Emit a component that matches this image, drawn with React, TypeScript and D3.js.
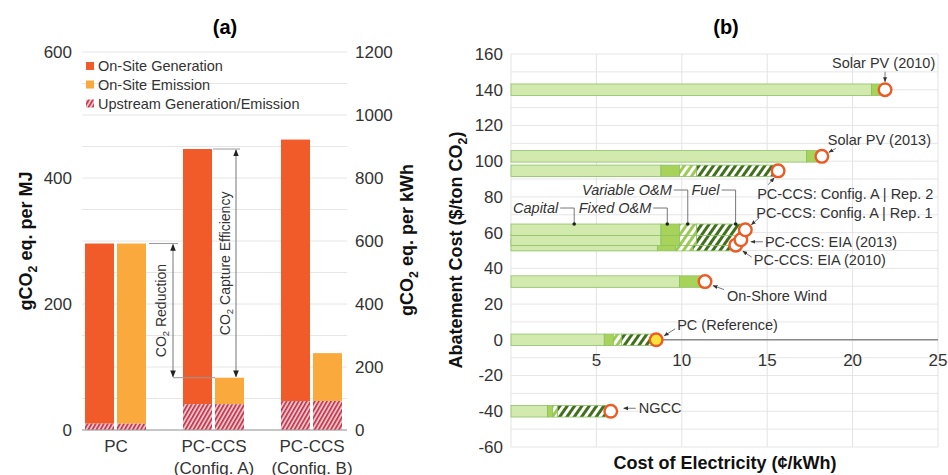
import * as d3 from "d3";

// ---- panel (a): emissions per unit output
const groups = ["PC", "PC-CCS (Config. A)", "PC-CCS (Config. B)"];
const groupLabels = [["PC"], ["PC-CCS", "(Config. A)"], ["PC-CCS", "(Config. B)"]];
const upstream = [10, 41, 46];
const onSiteGeneration = [286, 405, 415];
const onSiteEmission = [286, 42, 76];
const mjTicks = [0, 200, 400, 600];
const kwhTicks = [0, 200, 400, 600, 800, 1000, 1200];
const legendItems = ["On-Site Generation", "On-Site Emission", "Upstream Generation/Emission"];

// ---- panel (b): abatement cost vs cost of electricity
const techs = [
  "Solar PV (2010)",
  "Solar PV (2013)",
  "PC-CCS: Config. A | Rep. 2",
  "PC-CCS: Config. A | Rep. 1",
  "PC-CCS: EIA (2013)",
  "PC-CCS: EIA (2010)",
  "On-Shore Wind",
  "PC (Reference)",
  "NGCC",
];
const abatement = [140, 102.7, 94.6, 61.6, 56, 53, 32.6, 0, -40];
const capital = [21.1, 17.3, 8.78, 8.78, 8.78, 8.57, 9.86, 5.46, 2.13];
const fixedOM = [0.8, 0.9, 1.08, 1.08, 1.08, 1.09, 1.5, 0.53, 0.31];
const variableOM = [0, 0, 1.0, 1.0, 1.0, 1.0, 0, 0.49, 0.29];
const fuel = [0, 0, 4.78, 2.86, 2.6, 2.5, 0, 2.02, 3.11];
const costTicks = [5, 10, 15, 20, 25];
const abatementTicks = [-60, -40, -20, 0, 20, 40, 60, 80, 100, 120, 140, 160];
const components = ["Capital", "Fixed O&M", "Variable O&M", "Fuel"];
const componentDotX = [3.7, 9.15, 10.35, 13.15];

// callout layout relative to each marker: text (tx,ty), arrow from (x1,y1) to (x2,y2)
const callouts = [
  { tx: -53, ty: -22, x1: 0, y1: -18, x2: 0, y2: -8 },
  { tx: 6, ty: -11, x1: 14, y1: -8, x2: 7, y2: -4 },
  { tx: -21, ty: 28, x1: -10, y1: 14, x2: -4, y2: 7 },
  { tx: 11, ty: -12, x1: 14, y1: -12, x2: 6, y2: -5 },
  { tx: 24, ty: 7, x1: 22, y1: 2, x2: 10, y2: 2 },
  { tx: 18, ty: 20, x1: 16, y1: 12, x2: 7, y2: 6 },
  { tx: 22, ty: 19, x1: 19, y1: 8, x2: 8, y2: 4 },
  { tx: 21, ty: -10, x1: 19, y1: -11, x2: 8, y2: -4 },
  { tx: 28, ty: 2, x1: 25, y1: -3, x2: 13, y2: -3 },
];

const FONT = "'Liberation Sans', Arial, Helvetica, sans-serif";
const GEN = "#f15a29";
const EMI = "#faa93c";
const CAP = "#d3eaaf";
const FIX = "#a8d35b";
const EDGE = "#8cc063";

function Co2({ pre, post, size }: { pre: string; post: string; size: number }) {
  const d = size * 0.28;
  return (
    <>
      {pre}
      <tspan dy={d} fontSize={size * 0.68}>2</tspan>
      <tspan dy={-d}>{post}</tspan>
    </>
  );
}

function PanelA() {
  const x = d3.scaleBand().domain(groups).range([67, 361]);
  const y = d3.scaleLinear().domain([0, 600]).range([430, 52]);
  const y2 = d3.scaleLinear().domain([0, 1200]).range([430, 52]);
  const cx = (i: number) => (x(groups[i]) ?? 0) + x.bandwidth() / 2;
  const grid = d3.range(0, 601, 50);
  const total = (i: number) => upstream[i] + onSiteGeneration[i];
  const totalE = (i: number) => upstream[i] + onSiteEmission[i];
  const redX = cx(1) - 41;
  const capX = cx(1) + 22;

  return (
    <g>
      <text x={225} y={34} textAnchor="middle" fontSize={20} fontWeight="bold">(a)</text>
      {grid.map((g) => (
        <line key={g} x1={82} x2={347} y1={y(g)} y2={y(g)} stroke="#e6e6e6" />
      ))}
      {groups.map((g, i) => {
        const c = cx(i);
        return (
          <g key={g}>
            <rect x={c - 31} width={29} y={y(total(i))} height={y(upstream[i]) - y(total(i))} fill={GEN} />
            <rect x={c - 31} width={29} y={y(upstream[i])} height={y(0) - y(upstream[i])} fill="url(#upHatch)" />
            <rect x={c + 1} width={29} y={y(totalE(i))} height={y(upstream[i]) - y(totalE(i))} fill={EMI} />
            <rect x={c + 1} width={29} y={y(upstream[i])} height={y(0) - y(upstream[i])} fill="url(#upHatch)" />
            {groupLabels[i].map((l, k) => (
              <text key={l} x={c} y={452 + k * 22} textAnchor="middle" fontSize={17} fill="#333">{l}</text>
            ))}
          </g>
        );
      })}
      <line x1={82} x2={347} y1={y(0)} y2={y(0)} stroke="#999" />
      {mjTicks.map((t) => (
        <text key={t} x={72} y={y(t)} dy="0.35em" textAnchor="end" fontSize={17} fill="#333">{t}</text>
      ))}
      {kwhTicks.map((t) => (
        <text key={t} x={355} y={y2(t)} dy="0.35em" fontSize={17} fill="#333">{t}</text>
      ))}
      {/* legend */}
      {legendItems.map((l, i) => {
        const ly = [66, 84.5, 103.5][i];
        return (
          <g key={l}>
            <rect x={86} y={ly - 4} width={8} height={8} fill={i === 0 ? GEN : i === 1 ? EMI : "url(#upHatch)"} />
            <text x={98} y={ly} dy="0.35em" fontSize={14.5} fill="#333">{l}</text>
          </g>
        );
      })}
      {/* CO2 reduction */}
      <line x1={cx(0) + 33} x2={redX + 5} y1={y(total(0))} y2={y(total(0))} stroke="#999" />
      <line x1={redX} x2={cx(1) + 1} y1={y(totalE(1))} y2={y(totalE(1))} stroke="#999" />
      <line x1={redX} x2={redX} y1={y(totalE(0)) + 1} y2={y(totalE(1)) - 1} stroke="#777"
        markerStart="url(#arrA)" markerEnd="url(#arrA)" />
      <text transform={`translate(${redX - 12},${(y(totalE(0)) + y(totalE(1))) / 2}) rotate(-90)`}
        textAnchor="middle" dominantBaseline="central" fontSize={14} fill="#333">
        <Co2 pre="CO" post=" Reduction" size={14} />
      </text>
      {/* CO2 capture efficiency */}
      <line x1={cx(1) - 1} x2={capX + 4} y1={y(total(1))} y2={y(total(1))} stroke="#999" />
      <line x1={capX} x2={capX} y1={y(total(1)) + 1} y2={y(totalE(1)) - 1} stroke="#777"
        markerStart="url(#arrA)" markerEnd="url(#arrA)" />
      <text transform={`translate(${capX - 11},${(y(total(1)) + y(totalE(1))) / 2}) rotate(-90)`}
        textAnchor="middle" dominantBaseline="central" fontSize={14} fill="#333">
        <Co2 pre="CO" post=" Capture Efficiency" size={14} />
      </text>
      {/* axis titles */}
      <text transform="translate(32,241) rotate(-90)" textAnchor="middle" fontSize={18} fontWeight="bold" fill="#111">
        <Co2 pre="gCO" post=" eq. per MJ" size={18} />
      </text>
      <text transform="translate(413,240) rotate(-90)" textAnchor="middle" fontSize={18} fontWeight="bold" fill="#111">
        <Co2 pre="gCO" post=" eq. per kWh" size={18} />
      </text>
    </g>
  );
}

function PanelB() {
  const x = d3.scaleLinear().domain([0, 25]).range([511, 938]);
  const y = d3.scaleLinear().domain([-60, 160]).range([447, 54]);
  const barH = 11.5;
  const hGrid = d3.range(-60, 161, 10);
  const vGrid = [0, ...costTicks];
  const order = d3.range(techs.length).reverse();
  const segs = (i: number) => {
    const vals = [capital[i], fixedOM[i], variableOM[i], fuel[i]];
    const fills = [CAP, FIX, "url(#varHatch)", "url(#fuelHatch)"];
    let acc = 0;
    return vals.map((v, k) => {
      const s = { x0: acc, x1: acc + v, fill: fills[k] };
      acc += v;
      return s;
    }).filter((s) => s.x1 > s.x0);
  };
  const tot = (i: number) => capital[i] + fixedOM[i] + variableOM[i] + fuel[i];
  const rep1 = techs.indexOf("PC-CCS: Config. A | Rep. 1");
  const barTop = y(abatement[rep1]) - barH / 2;

  return (
    <g>
      <text x={726} y={34} textAnchor="middle" fontSize={20} fontWeight="bold">(b)</text>
      {hGrid.map((g) => (
        <line key={g} x1={x(0)} x2={x(25)} y1={y(g)} y2={y(g)} stroke="#e6e6e6" />
      ))}
      {vGrid.map((g) => (
        <line key={g} x1={x(g)} x2={x(g)} y1={y(160)} y2={y(-60)} stroke="#e3e3e3" />
      ))}
      <line x1={x(0)} x2={x(25)} y1={y(0)} y2={y(0)} stroke="#8a8a8a" strokeWidth={1.5} />
      {abatementTicks.map((t) => (
        <text key={t} x={503} y={y(t)} dy="0.35em" textAnchor="end" fontSize={17} fill="#333">{t}</text>
      ))}
      {costTicks.map((t) => (
        <text key={t} x={x(t)} y={366} textAnchor="middle" fontSize={17} fill="#333">{t}</text>
      ))}
      {order.map((i) => (
        <g key={techs[i]}>
          {segs(i).map((s, k) => (
            <rect key={k} x={x(s.x0)} width={x(s.x1) - x(s.x0)} y={y(abatement[i]) - barH / 2} height={barH}
              fill={s.fill} stroke={EDGE} strokeWidth={0.8} />
          ))}
        </g>
      ))}
      {order.map((i) => (
        <circle key={techs[i]} cx={x(tot(i))} cy={y(abatement[i])} r={6.3}
          fill={i === techs.indexOf("PC (Reference)") ? "#f6e43a" : "#fff"} stroke="#ee5a24" strokeWidth={2.4} />
      ))}
      {techs.map((t, i) => {
        const mx = x(tot(i));
        const my = y(abatement[i]);
        const c = callouts[i];
        return (
          <g key={t}>
            <line x1={mx + c.x1} y1={my + c.y1} x2={mx + c.x2} y2={my + c.y2} stroke="#555" strokeWidth={0.8}
              markerEnd="url(#arrB)" />
            <text x={mx + c.tx} y={my + c.ty} fontSize={14.5} fill="#333">{t}</text>
          </g>
        );
      })}
      {/* component call-outs */}
      {components.map((c, k) => {
        const dx = x(componentDotX[k]);
        const upper = k >= 2;
        const ly = barTop - (upper ? 34 : 16);
        return (
          <g key={c}>
            <polyline points={`${dx - 14},${ly} ${dx},${ly} ${dx},${barTop}`} fill="none" stroke="#555" strokeWidth={0.8} />
            <circle cx={dx} cy={barTop} r={1.8} fill="#222" />
            <text x={dx - 16} y={ly + 5} textAnchor="end" fontSize={14.5} fontStyle="italic" fill="#333">{c}</text>
          </g>
        );
      })}
      <text transform="translate(462,250) rotate(-90)" textAnchor="middle" fontSize={18} fontWeight="bold" fill="#111">
        <Co2 pre="Abatement Cost ($/ton CO" post=")" size={18} />
      </text>
      <text x={725} y={469} textAnchor="middle" fontSize={18} fontWeight="bold" fill="#111">
        Cost of Electricity (¢/kWh)
      </text>
    </g>
  );
}

export default function App() {
  return (
    <svg width={948} height={475} style={{ position: "absolute", left: 0, top: 0, background: "#fff" }}
      fontFamily={FONT}>
      <defs>
        <pattern id="upHatch" width={3.5} height={3.5} patternUnits="userSpaceOnUse" patternTransform="rotate(30)">
          <rect width={3.5} height={3.5} fill="#ebc3c9" />
          <line x1={0.8} y1={0} x2={0.8} y2={3.5} stroke="#c3263d" strokeWidth={1.5} />
        </pattern>
        <pattern id="fuelHatch" width={6} height={6} patternUnits="userSpaceOnUse" patternTransform="rotate(35)">
          <rect width={6} height={6} fill="#fff" />
          <line x1={1.5} y1={0} x2={1.5} y2={6} stroke="#41701d" strokeWidth={3} />
        </pattern>
        <pattern id="varHatch" width={6} height={6} patternUnits="userSpaceOnUse" patternTransform="rotate(35)">
          <rect width={6} height={6} fill="#fff" />
          <line x1={1.5} y1={0} x2={1.5} y2={6} stroke="#9ccb55" strokeWidth={3} />
        </pattern>
        <marker id="arrA" viewBox="0 0 10 10" refX={9} refY={5} markerWidth={7} markerHeight={7}
          orient="auto-start-reverse" markerUnits="userSpaceOnUse">
          <path d="M0,1 L10,5 L0,9 z" fill="#222" />
        </marker>
        <marker id="arrB" viewBox="0 0 10 10" refX={9} refY={5} markerWidth={5} markerHeight={5}
          orient="auto" markerUnits="userSpaceOnUse">
          <path d="M0,1 L10,5 L0,9 z" fill="#333" />
        </marker>
      </defs>
      <PanelA />
      <PanelB />
    </svg>
  );
}
